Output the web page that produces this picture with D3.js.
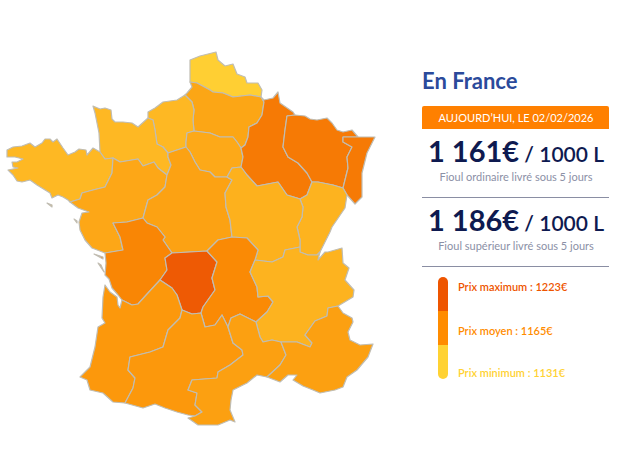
<!DOCTYPE html>
<html lang="fr">
<head>
    <meta charset="UTF-8">
    <script src="https://cdn.jsdelivr.net/npm/d3@7/dist/d3.min.js"></script>
    <style>
        html,body{ margin:0; padding:0; background:#fff; }
        svg{ display:block; }
        svg text{ font-family:Lato,sans-serif; }
        .region{ stroke:#c0bdb3; stroke-width:1.2; stroke-linejoin:round; }
    </style>
    <title>Prix du fioul en France</title>
</head>
<body>
    <script>
        // region names and the price read from the tint of each region
        var regionNames = ["Nord-Pas-de-Calais","Picardie","Haute-Normandie","Basse-Normandie","Bretagne","Pays de la Loire",
            "Ile-de-France","Centre","Champagne-Ardenne","Lorraine","Alsace","Franche-Comte","Bourgogne","Poitou-Charentes",
            "Limousin","Auvergne","Rhone-Alpes","Aquitaine","Midi-Pyrenees","Languedoc-Roussillon","PACA"];
        var regionPrices = [1131,1153,1143,1143,1143,1152,1151,1155,1188,1188,1188,1146,1147,1175,1223,1170,1146,1160,1160,1156,1156];

        // outlines, shared borders kept once (map units)
        var arcs = {
            npdcCoast:[[190,82],[190,70],[190,60],[200,56],[216,52],[218,60],[225,66],[233,64],[237,74],[245,77],[247,83],[258,83],[262,90],[261,97]],
            npdcPic:[[261,97],[250,95],[233,97],[223,93],[213,92],[210,90],[197,83],[190,82]],
            picCoast:[[190,82],[192,87],[187,93],[185,95]],
            picHn:[[185,95],[192,102],[194,110],[193,120],[194,131]],
            picIdf:[[194,131],[210,133],[220,137],[233,137],[237,142],[241,148]],
            picCh:[[261,97],[264,102],[262,115],[257,123],[249,127],[248,137],[245,145],[241,148]],
            idfCh:[[241,148],[243,157],[241,167]],
            idfBou:[[241,167],[232,168],[227,177]],
            idfCen:[[186,147],[190,152],[195,162],[200,170],[210,172],[215,177],[227,177]],
            hnIdf:[[194,131],[187,133],[186,142],[186,147]],
            hnCoast:[[185,95],[177,100],[163,102],[155,108],[148,112],[148,118],[153,120]],
            hnBn:[[153,120],[155,130],[157,144],[163,147],[168,153]],
            hnCen:[[168,153],[177,150],[186,147]],
            bnCoast:[[153,120],[148,118],[138,127],[132,123],[123,122],[115,122],[112,119],[111,110],[105,108],[100,109],[93,106],[95,113],[97,123],[99,133],[100,152]],
            bnBre:[[100,152],[105,159],[113,158]],
            bnPdl:[[113,158],[120,162],[138,159],[143,166],[154,162],[158,168],[167,175]],
            bnCen:[[167,175],[171,165],[168,157],[168,153]],
            breCoast:[[100,152],[93,148],[87,155],[86,150],[79,149],[75,152],[68,155],[63,148],[57,139],[53,142],[50,139],[45,139],[42,143],[35,147],[30,143],[22,146],[13,147],[7,150],[7,157],[15,157],[23,159],[17,162],[12,162],[13,167],[18,168],[8,170],[13,175],[17,181],[22,182],[30,180],[37,185],[50,193],[52,198],[58,195],[63,197],[68,200],[70,202]],
            brePdl:[[70,202],[80,199],[82,193],[93,190],[105,187],[112,173],[113,158]],
            pdlCoast:[[70,202],[78,208],[89,212],[82,213],[79,222],[80,230],[85,240],[92,248],[105,253]],
            pdlCen:[[167,175],[165,187],[157,195],[148,200],[143,218]],
            pdlPoi:[[143,218],[127,222],[113,223],[120,237],[123,250],[105,253]],
            poiCoast:[[105,253],[106,263],[105,275],[109,279],[112,288],[118,295],[122,300]],
            poiCen:[[143,218],[147,223],[157,227],[165,237],[163,240],[172,253]],
            poiLim:[[160,280],[167,270],[165,258],[172,253]],
            poiAqu:[[122,300],[132,305],[138,304],[148,293],[160,280]],
            limCen:[[172,253],[190,252],[207,251]],
            limAuv:[[207,251],[217,262],[212,278],[215,290],[203,307],[201,313]],
            limMid:[[201,313],[192,314],[182,310]],
            limAqu:[[182,310],[177,295],[172,288],[160,280]],
            aquCoast:[[122,300],[120,308],[118,305],[117,297],[110,292],[105,285],[103,297],[102,318],[105,323],[98,327],[95,347],[90,367],[80,377],[87,380],[90,390],[103,393],[113,402],[125,403]],
            aquMid:[[125,403],[133,388],[135,378],[128,370],[130,357],[150,352],[163,347],[168,330],[180,318],[182,310]],
            auvCen:[[207,251],[218,240],[232,237]],
            auvBou:[[232,237],[247,238],[258,250],[255,260]],
            auvRa:[[255,260],[250,272],[257,287],[258,297],[268,296],[273,302],[267,312],[256,322]],
            auvLan:[[256,322],[248,318],[240,314],[231,318],[228,327]],
            auvMid:[[228,327],[222,315],[215,325],[205,327],[201,313]],
            midLan:[[228,327],[233,343],[242,350],[243,355],[230,365],[218,372],[217,378],[192,380],[188,390],[197,393],[195,405],[202,412],[195,416]],
            midPyr:[[125,403],[143,408],[155,404],[165,408],[177,412],[188,415],[195,416]],
            lanCoast:[[195,416],[188,418],[198,425],[218,425],[230,420],[235,422],[230,410],[231,400],[233,390],[247,383],[257,375],[267,377]],
            lanPaca:[[267,377],[280,365],[286,355],[281,342]],
            lanRa:[[281,342],[272,340],[263,342],[260,337],[256,322]],
            pacaCoast:[[267,377],[280,382],[288,375],[292,375],[297,375],[293,380],[303,386],[313,390],[320,393],[335,390],[343,387],[347,377],[357,370],[368,357],[373,344],[360,345],[350,340],[348,332],[353,322],[352,318],[343,313],[338,306]],
            pacaRa:[[338,306],[328,308],[327,316],[315,321],[305,335],[312,343],[310,347],[297,342],[281,342]],
            raEast:[[338,306],[353,297],[354,290],[345,280],[349,268],[343,263],[342,248],[328,252],[325,252],[318,260],[320,252]],
            raFc:[[320,252],[317,255],[308,255],[300,252],[300,247]],
            raBou:[[300,247],[285,250],[283,257],[272,262],[255,260]],
            fcBou:[[300,199],[303,207],[302,217],[297,227],[300,240],[300,247]],
            fcEast:[[347,195],[345,208],[332,227],[330,232],[320,252]],
            fcAls:[[343,188],[347,195]],
            fcLor:[[312,182],[318,182],[333,185],[343,188]],
            fcCh:[[300,199],[307,195],[312,182]],
            chLor:[[312,182],[307,173],[298,163],[288,157],[283,147],[285,130],[287,116],[295,115]],
            chCoast:[[261,97],[264,100],[273,98],[278,92],[280,103],[293,112],[295,115]],
            chBou:[[241,167],[247,175],[257,186],[278,182],[287,195],[297,198],[300,199]],
            cenBou:[[227,177],[232,180],[225,193],[226,207],[230,220],[232,237]],
            lorCoast:[[295,115],[305,116],[310,119],[317,120],[327,118],[332,123],[337,130],[343,132],[352,130],[358,137]],
            lorAls:[[358,137],[343,137],[343,142],[352,147],[347,157],[348,168],[343,188]],
            alsEast:[[358,137],[375,137],[367,153],[362,173],[362,197],[355,204],[347,195]]
        };
        // each outline as a list of arcs, a leading "-" runs the arc backwards
        var regionArcs = [
            ["npdcCoast","npdcPic"],
            ["-npdcPic","picCh","-picIdf","-picHn","-picCoast"],
            ["picHn","hnIdf","-hnCen","-hnBn","-hnCoast"],
            ["bnCoast","bnBre","bnPdl","bnCen","-hnBn"],
            ["breCoast","brePdl","-bnBre"],
            ["pdlCoast","-pdlPoi","-pdlCen","-bnPdl","-brePdl"],
            ["picIdf","idfCh","idfBou","-idfCen","-hnIdf"],
            ["hnCen","idfCen","cenBou","-auvCen","-limCen","-poiCen","-pdlCen","bnCen"],
            ["chCoast","-chLor","-fcCh","-chBou","-idfCh","-picCh"],
            ["lorCoast","lorAls","-fcLor","chLor"],
            ["alsEast","-fcAls","-lorAls"],
            ["fcLor","fcAls","fcEast","raFc","-fcBou","fcCh"],
            ["-idfBou","chBou","fcBou","raBou","-auvBou","-cenBou"],
            ["pdlPoi","poiCoast","poiAqu","poiLim","-poiCen"],
            ["limCen","limAuv","limMid","limAqu","poiLim"],
            ["auvCen","auvBou","auvRa","auvLan","auvMid","-limAuv"],
            ["-raFc","-raEast","pacaRa","lanRa","-auvRa","-raBou"],
            ["aquCoast","aquMid","limAqu","-poiAqu"],
            ["midPyr","-midLan","auvMid","limMid","-aquMid"],
            ["lanCoast","lanPaca","lanRa","auvLan","midLan"],
            ["pacaCoast","pacaRa","-lanPaca"]
        ];
        // islands, by index of the region they belong to
        var islands = [
            {region:4, ring:[[47,203],[52,205],[52,207],[47,205]]},
            {region:5, ring:[[74,219],[77,221],[77,223],[74,222]]},
            {region:13, ring:[[94,254],[103,257],[103,259],[96,256]]},
            {region:13, ring:[[98,263],[101,265],[104,272],[101,271]]}
        ];

        var legendLabels = ["Prix maximum","Prix moyen","Prix minimum"];
        var legendValues = [1223,1165,1131];
        var legendColors = ["#ee5500","#ff8c00","#ffd233"];
        var legendLabelY = [287,331,373];

        var priceValues = ["1 161€","1 186€"];
        var priceNotes = ["Fioul ordinaire livré sous 5 jours","Fioul supérieur livré sous 5 jours"];
        var priceBaselines = [162,231];
        var noteBaselines = [181,250];
        var ruleY = [197.5,266.5];

        var panelLeft = 422, panelRight = 609, panelMid = 516;

        var svg = d3.select("body").append("svg")
            .attr("width",642)
            .attr("height",454);

        // map
        var color = d3.scaleLinear()
            .domain([1131,1165,1223])
            .range(["#ffcf33","#fb8f05","#ee5a04"]);

        function ringOf(names){
            var ring = [];
            names.forEach(function(n){
                var back = n[0]=="-";
                var pts = arcs[back ? n.slice(1) : n].slice();
                if(back) pts.reverse();
                ring = ring.concat(ring.length ? pts.slice(1) : pts);
            });
            return ring;
        }
        var features = regionNames.map(function(name,i){
            var polys = [[ringOf(regionArcs[i])]];
            islands.filter(function(d){ return d.region==i; }).forEach(function(d){
                polys.push([d.ring]);
            });
            return {type:"Feature",properties:{name:name,price:regionPrices[i]},
                geometry:{type:"MultiPolygon",coordinates:polys}};
        });
        var path = d3.geoPath(d3.geoIdentity());

        svg.append("g").selectAll("path")
            .data(features)
            .enter()
            .append("path")
            .attr("class","region")
            .attr("d",path)
            .attr("fill",function(d){ return color(d.properties.price); });

        // right panel
        svg.append("text")
            .attr("x",panelLeft)
            .attr("y",89)
            .attr("font-size",22)
            .attr("font-weight",700)
            .attr("fill","#2b4a9b")
            .text("En France");

        svg.append("path")
            .attr("d","M"+panelLeft+",129V108a2,2 0 0 1 2,-2H"+(panelRight-2)+"a2,2 0 0 1 2,2V129Z")
            .attr("fill","#ff8000");
        svg.append("text")
            .attr("x",panelMid)
            .attr("y",122)
            .attr("text-anchor","middle")
            .attr("font-size",11)
            .attr("fill","#fff")
            .text("AUJOURD’HUI, LE 02/02/2026");

        var prices = svg.append("g").selectAll("text")
            .data(priceValues)
            .enter()
            .append("text")
            .attr("x",panelMid)
            .attr("y",function(d,i){ return priceBaselines[i]; })
            .attr("text-anchor","middle")
            .attr("fill","#0e1a50");
        prices.append("tspan")
            .attr("font-size",29)
            .attr("font-weight",700)
            .text(function(d){ return d; });
        prices.append("tspan")
            .attr("font-size",21)
            .attr("font-weight",600)
            .text(" / 1000 L");

        svg.append("g").selectAll("text")
            .data(priceNotes)
            .enter()
            .append("text")
            .attr("x",panelMid)
            .attr("y",function(d,i){ return noteBaselines[i]; })
            .attr("text-anchor","middle")
            .attr("font-size",11)
            .attr("fill","#8b90a6")
            .text(function(d){ return d; });

        svg.append("g").selectAll("line")
            .data(ruleY)
            .enter()
            .append("line")
            .attr("x1",panelLeft)
            .attr("x2",panelRight)
            .attr("y1",function(d){ return d; })
            .attr("y2",function(d){ return d; })
            .attr("stroke","#8a8ea3");

        // legend
        var legendScale = d3.scaleBand()
            .domain(legendLabels)
            .range([277,379]);
        svg.append("clipPath")
            .attr("id","legend-clip")
            .append("rect")
            .attr("x",438)
            .attr("y",277)
            .attr("width",10)
            .attr("height",102)
            .attr("rx",5);
        svg.append("g")
            .attr("clip-path","url(#legend-clip)")
            .selectAll("rect")
            .data(legendLabels)
            .enter()
            .append("rect")
            .attr("x",438)
            .attr("y",function(d){ return legendScale(d); })
            .attr("width",10)
            .attr("height",legendScale.bandwidth())
            .attr("fill",function(d,i){ return legendColors[i]; });
        svg.append("g").selectAll("text")
            .data(legendLabels)
            .enter()
            .append("text")
            .attr("x",458)
            .attr("y",function(d,i){ return legendLabelY[i]+4; })
            .attr("font-size",11)
            .attr("font-weight",600)
            .attr("fill",function(d,i){ return legendColors[i]; })
            .text(function(d,i){ return d+" : "+legendValues[i]+"€"; });
    </script>
</body>
</html>
